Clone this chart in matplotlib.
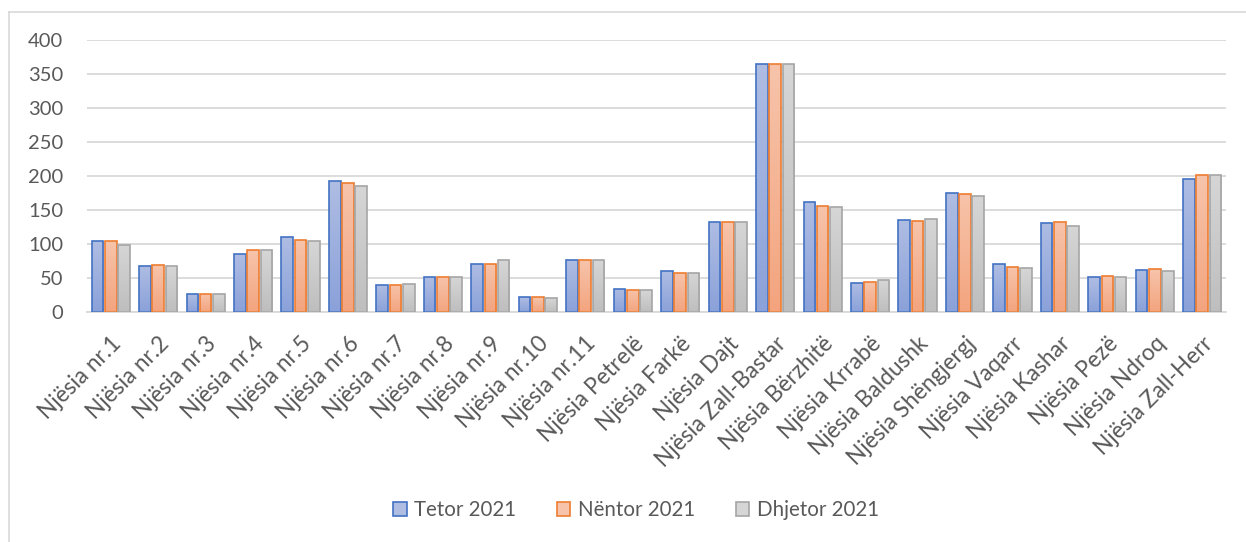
import matplotlib.pyplot as plt
import numpy as np
from matplotlib.colors import LinearSegmentedColormap
from matplotlib.patches import Patch
from matplotlib.lines import Line2D

plt.rcParams['font.family'] = ['Lato', 'DejaVu Sans']

njesite = ['Njësia nr.1', 'Njësia nr.2', 'Njësia nr.3', 'Njësia nr.4', 'Njësia nr.5',
           'Njësia nr.6', 'Njësia nr.7', 'Njësia nr.8', 'Njësia nr.9', 'Njësia nr.10',
           'Njësia nr.11', 'Njësia Petrelë', 'Njësia Farkë', 'Njësia Dajt',
           'Njësia Zall-Bastar', 'Njësia Bërzhitë', 'Njësia Krrabë', 'Njësia Baldushk',
           'Njësia Shëngjergj', 'Njësia Vaqarr', 'Njësia Kashar', 'Njësia Pezë',
           'Njësia Ndroq', 'Njësia Zall-Herr']
tetor = [104, 68, 26, 86, 110, 192, 40, 51, 71, 22, 76, 34, 61, 132, 365, 162, 42, 135,
         175, 70, 131, 51, 62, 196]
nentor = [105, 69, 27, 91, 106, 189, 40, 51, 70, 22, 76, 33, 58, 133, 365, 156, 44, 134,
          174, 66, 133, 53, 63, 201]
dhjetor = [99, 67, 27, 91, 104, 185, 41, 51, 76, 20, 77, 32, 58, 133, 365, 155, 47, 137,
           170, 64, 126, 51, 61, 202]
seritë = ['Tetor 2021', 'Nëntor 2021', 'Dhjetor 2021']

# (top colour, bottom colour, edge colour)
ngjyrat = [('#afbde3', '#8aa1d9', '#4472c4'),
           ('#f7c4ab', '#f3a47e', '#ed7d31'),
           ('#d6d6d6', '#bebebe', '#a5a5a5')]

fig = plt.figure(figsize=(12.46, 5.42), dpi=100)
ax = fig.add_axes([87 / 1246, 1 - 312 / 542, (1226 - 87) / 1246, (312 - 40) / 542])

x = np.arange(len(njesite))
w = 0.245
step = 0.28
grad = np.linspace(1, 0, 256).reshape(-1, 1)

for k, vals in enumerate([tetor, nentor, dhjetor]):
    top, bottom, edge = ngjyrat[k]
    cmap = LinearSegmentedColormap.from_list('g%d' % k, [bottom, top])
    bars = ax.bar(x + (k - 1) * step, vals, width=w, facecolor='none',
                  edgecolor=edge, linewidth=1.2, zorder=3)
    for b in bars:
        bx, by = b.get_x(), b.get_y()
        im = ax.imshow(grad, cmap=cmap, aspect='auto', zorder=2,
                       extent=(bx, bx + b.get_width(), by, by + b.get_height()),
                       vmin=0, vmax=1)
        im.set_clip_path(b)

ax.set_xlim(-0.5, len(njesite) - 0.5)
ax.set_ylim(0, 400)
ax.set_yticks(range(0, 401, 50))
ax.grid(axis='y', color='#d9d9d9', linewidth=1.3, zorder=0)
ax.set_axisbelow(True)
for s in ['top', 'right', 'left']:
    ax.spines[s].set_visible(False)
ax.spines['bottom'].set_color('#d9d9d9')
ax.spines['bottom'].set_linewidth(1.3)
ax.tick_params(axis='both', length=0, colors='#595959', labelsize=14.5)
ax.tick_params(axis='y', pad=17)
ax.set_xticks(x)
ax.set_xticklabels(njesite, rotation=45, ha='right', rotation_mode='anchor')
ax.tick_params(axis='x', pad=15, labelsize=16.3)

handles = [Patch(facecolor=c[0], edgecolor=c[2], linewidth=1.2) for c in ngjyrat]
fig.legend(handles, seritë, loc='center', bbox_to_anchor=(636 / 1246, 1 - 510 / 542),
           ncol=3, frameon=False, fontsize=14.8, labelcolor='#595959',
           handlelength=0.65, handleheight=0.65, handletextpad=0.35, columnspacing=2.0)

# chart area border
fig.add_artist(Line2D([8.5 / 1246, 8.5 / 1246], [0, 1 - 11.5 / 542],
                      color='#d9d9d9', linewidth=1.2, transform=fig.transFigure))
fig.add_artist(Line2D([8.5 / 1246, 1], [1 - 11.5 / 542, 1 - 11.5 / 542],
                      color='#d9d9d9', linewidth=1.2, transform=fig.transFigure))

fig.savefig('out.png', dpi=100)
